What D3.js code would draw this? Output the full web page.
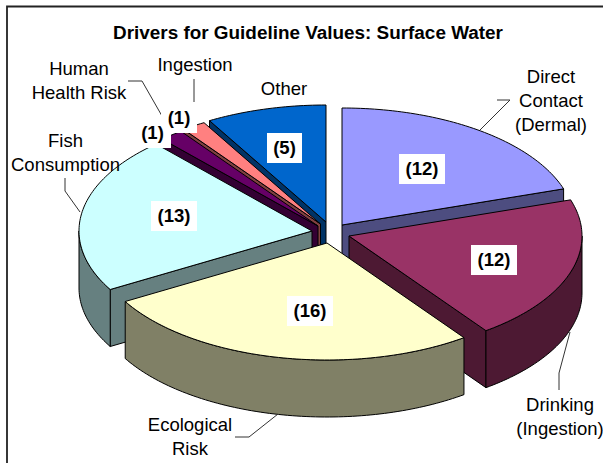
<!DOCTYPE html>
<html>
<head>
<meta charset="utf-8">
<script src="https://cdn.jsdelivr.net/npm/d3@7"></script>
<style>
  html, body { margin: 0; padding: 0; background: #fff; }
  svg { display: block; }
  text { font-family: "Liberation Sans", Arial, sans-serif; fill: #000; }
</style>
</head>
<body>
<div id="chart"></div>
<script>
const categories = ["Direct Contact (Dermal)", "Drinking (Ingestion)", "Ecological Risk",
  "Fish Consumption", "Human Health Risk", "Ingestion", "Other"];
const counts = [12, 12, 16, 13, 1, 1, 5];
const topColors = ["#9999ff", "#993366", "#ffffcc", "#ccffff", "#660066", "#ff8080", "#0066cc"];
const sideColors = ["#4d4d80", "#4d1933", "#808066", "#668080", "#330033", "#804040", "#003366"];

// how far each slice is pulled out of the centre, in px
const explode = [[12, -4], [19, 7], [-3, 14], [-18, 2], [-12, -3], [-9.5, -5], [-4, -7]];
// centres of the white count labels
const countPos = [[422, 169], [494, 260], [310, 311], [174, 216], [152.5, 133], [179, 118], [284.5, 148]];
const countBoxW = [46, 46, 46, 46, 37, 36, 35];

// category text, one entry per line
const labelLines = [
  { lines: ["Direct", "Contact", "(Dermal)"], x: 551, y: 83 },
  { lines: ["Drinking", "(Ingestion)"], x: 560, y: 411 },
  { lines: ["Ecological", "Risk"], x: 190, y: 431 },
  { lines: ["Fish", "Consumption"], x: 65.5, y: 147 },
  { lines: ["Human", "Health Risk"], x: 79, y: 75 },
  { lines: ["Ingestion"], x: 195, y: 71 },
  { lines: ["Other"], x: 284, y: 95 }
];
const leaders = [
  [[497, 100], [510, 100], [480, 130]],
  [[570, 332], [559, 373], [559, 390]],
  [[278, 414], [249, 437], [235, 437]],
  [[65, 178], [65, 191], [80, 212]],
  [[128, 81], [142, 81], [162, 116]],
  [[194, 79], [194, 102]]
];

const width = 603, height = 463;
const cx = 330, cy = 229, rx = 233, ry = 117, depth = 57;

const svg = d3.select("#chart").append("svg")
  .attr("width", width)
  .attr("height", height);

// frame is cut off on the right and at the bottom
svg.append("path")
  .attr("d", `M7,${height}V6.5H${width}`)
  .attr("fill", "none")
  .attr("stroke", "#222")
  .attr("stroke-width", 1.8);

const pie = d3.pie().sort(null).value(d => d);
const arcs = pie(counts);

// flat ellipse standing in for the tilted pie
const pt = (d, a, dz = 0) => [
  cx + explode[d.index][0] + rx * Math.sin(a),
  cy + explode[d.index][1] - ry * Math.cos(a) + dz
];
const apex = (d, dz = 0) => [cx + explode[d.index][0], cy + explode[d.index][1] + dz];

function rimPoints(d, a0, a1, dz) {
  const n = Math.max(2, Math.ceil((a1 - a0) / 0.02));
  return d3.range(n + 1).map(i => pt(d, a0 + (a1 - a0) * i / n, dz));
}
const line = d3.line();

// back to front: slices nearest the top of the picture go first
const order = [6, 5, 4, 0, 3, 1, 2];
const g = svg.append("g").attr("stroke", "#000").attr("stroke-width", 1).attr("stroke-linejoin", "round");

const slice = g.selectAll("g.slice")
  .data(order.map(i => arcs[i]))
  .join("g")
  .attr("class", "slice");

slice.each(function (d) {
  const s = d3.select(this);
  const side = sideColors[d.index];
  // radial faces: only those turned to the viewer
  [d.startAngle, d.endAngle].forEach((a, k) => {
    const facing = (k === 0 ? -1 : 1) * Math.sin(a);
    if (facing > 0.001) {
      s.append("path")
        .attr("d", line([apex(d), pt(d, a), pt(d, a, depth), apex(d, depth)]) + "Z")
        .attr("fill", side);
    }
  });
  // rim: lower half of the ellipse
  const a0 = Math.max(d.startAngle, Math.PI / 2);
  const a1 = Math.min(d.endAngle, Math.PI * 1.5);
  if (a1 > a0) {
    s.append("path")
      .attr("d", line(rimPoints(d, a0, a1, 0).concat(rimPoints(d, a0, a1, depth).reverse())) + "Z")
      .attr("fill", side);
  }
  s.append("path")
    .attr("d", line([apex(d)].concat(rimPoints(d, d.startAngle, d.endAngle, 0))) + "Z")
    .attr("fill", topColors[d.index]);
});

svg.append("g").selectAll("path")
  .data(leaders)
  .join("path")
  .attr("d", d => line(d))
  .attr("fill", "none")
  .attr("stroke", "#333")
  .attr("stroke-width", 1);

svg.append("text")
  .attr("x", 308)
  .attr("y", 38.5)
  .attr("text-anchor", "middle")
  .attr("font-weight", "bold")
  .attr("font-size", 18.9)
  .text("Drivers for Guideline Values: Surface Water");

const labelSel = svg.append("g").selectAll("text")
  .data(labelLines)
  .join("text")
  .attr("text-anchor", "middle")
  .attr("font-size", 18.5)
  .attr("y", d => d.y);
labelSel.selectAll("tspan")
  .data(d => d.lines.map(l => ({ l, x: d.x })))
  .join("tspan")
  .attr("x", d => d.x)
  .attr("dy", (d, i) => i ? 24 : 0)
  .text(d => d.l);

// boxes first so a neighbouring box never clips a number
const countG = svg.append("g");
countG.selectAll("rect")
  .data(counts)
  .join("rect")
  .attr("x", (d, i) => countPos[i][0] - countBoxW[i] / 2)
  .attr("y", (d, i) => countPos[i][1] - 15)
  .attr("width", (d, i) => countBoxW[i])
  .attr("height", 30)
  .attr("fill", "#fff");
countG.selectAll("text")
  .data(counts)
  .join("text")
  .attr("text-anchor", "middle")
  .attr("x", (d, i) => countPos[i][0])
  .attr("y", (d, i) => countPos[i][1] + 6)
  .attr("font-weight", "bold")
  .attr("font-size", 18.5)
  .text(d => `(${d})`);
</script>
</body>
</html>
